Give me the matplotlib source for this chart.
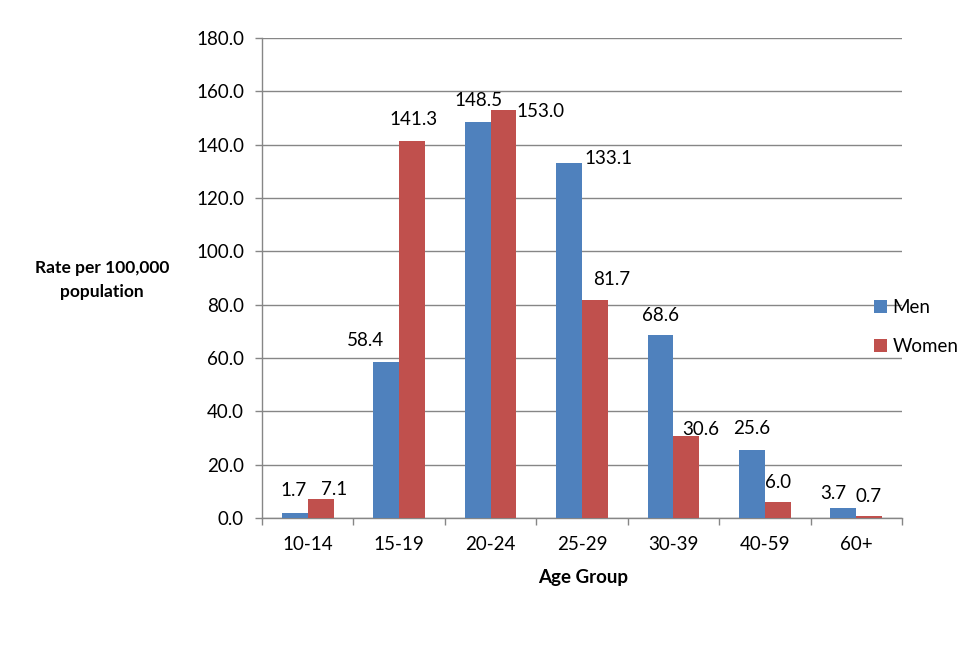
import matplotlib
matplotlib.use("Agg")
import matplotlib.pyplot as plt
import numpy as np

categories = ["10-14", "15-19", "20-24", "25-29", "30-39", "40-59", "60+"]
men = [1.7, 58.4, 148.5, 133.1, 68.6, 25.6, 3.7]
women = [7.1, 141.3, 153.0, 81.7, 30.6, 6.0, 0.7]
yticks = [0, 20, 40, 60, 80, 100, 120, 140, 160, 180]

# label offsets in pixels (dx, dy) relative to bar top center
men_off = [(-1, 23), (-21, 22), (1, 21), (39, 5), (0, 20), (0, 21), (-10, 15)]
women_off = [(13, 10), (1, 22), (37, -2), (17, 21), (14, 7), (0, 19), (-1, 20)]

FONT = "Lato"
plt.rcParams['font.family'] = [FONT, 'DejaVu Sans']
FS = 13.5
FSB = 12.5

fig = plt.figure(figsize=(9.75, 6.55), dpi=100)
ax = fig.add_axes([262/975, 1-518/655, 640/975, 480/655])

x = np.arange(len(categories))
w = 0.283
c_men = "#4F81BD"
c_women = "#C0504D"
b1 = ax.bar(x - w/2, men, w, color=c_men, label="Men", zorder=3)
b2 = ax.bar(x + w/2, women, w, color=c_women, label="Women", zorder=3)

px2pt = 72/100
for bars, vals, offs in ((b1, men, men_off), (b2, women, women_off)):
    for rect, v, (dx, dy) in zip(bars, vals, offs):
        ax.annotate(f"{v:.1f}", (rect.get_x() + rect.get_width()/2, v),
                    xytext=(dx*px2pt, dy*px2pt), textcoords="offset points",
                    ha="center", va="center", fontsize=FS, color="black", zorder=4)

ax.set_xlim(-0.5, len(categories) - 0.5)
ax.set_ylim(0, 180)
ax.set_yticks(yticks)
ax.set_yticklabels([f"{t:.1f}" for t in yticks], fontsize=FS)
ax.yaxis.grid(True, color="#868686", lw=1, zorder=0)
ax.set_axisbelow(True)

ax.set_xticks(x)
ax.set_xticklabels(categories, fontsize=FS)
ax.tick_params(axis="x", which="major", length=0, pad=13)
ax.set_xticks(np.arange(-0.5, len(categories), 1), minor=True)
ax.tick_params(axis="x", which="minor", length=5, color="#868686", width=1, direction="out")
ax.tick_params(axis="y", length=5, color="#868686", width=1, direction="out", pad=8)

for s in ("top", "right"):
    ax.spines[s].set_visible(False)
for s in ("left", "bottom"):
    ax.spines[s].set_color("#868686")
    ax.spines[s].set_linewidth(1)

fig.text(102/975, 1-280/655, "Rate per 100,000\npopulation", ha="center", va="center",
         fontsize=FSB, fontweight="bold", linespacing=1.6)
fig.text(583/975, 1-578/655, "Age Group", ha="center", va="center",
         fontsize=FS, fontweight="bold")

leg = fig.legend(handles=[b1, b2], loc="center left", bbox_to_anchor=(866/975, 1-327/655),
                 frameon=False, fontsize=FS, handlelength=0.7, handleheight=0.7,
                 handletextpad=0.3, labelspacing=1.2, borderaxespad=0)

fig.savefig("out.png", dpi=100)
